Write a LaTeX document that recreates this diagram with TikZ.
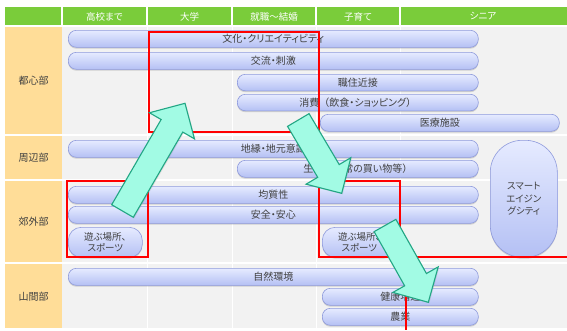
\documentclass[tikz,border=0pt]{standalone}
\usepackage{fontspec}
\setmainfont[RawFeature=+palt]{Noto Sans CJK JP}
\newfontfamily\fwfont{Noto Sans CJK JP}
\usetikzlibrary{shadows,calc}
\definecolor{hdr}{HTML}{7ACC3A}
\definecolor{side}{HTML}{FFDD98}
\definecolor{bg}{HTML}{F2F2F2}
\definecolor{bartop}{HTML}{E6EBFF}
\definecolor{barbot}{HTML}{B4C0F4}
\definecolor{barline}{HTML}{8E9ADC}
\definecolor{txt}{HTML}{404040}
\definecolor{arrfill}{HTML}{A2FBE4}
\definecolor{arrline}{HTML}{22A684}
\definecolor{redln}{HTML}{FF0000}
\newcommand{\lp}{{\fwfont （}}
\newcommand{\rp}{{\fwfont ）}}
\tikzset{
  hdrtxt/.style={text=white, font=\fontsize{9.5}{10}\selectfont, inner sep=0pt},
  rowtxt/.style={text=txt, font=\fontsize{10}{11}\selectfont, inner sep=0pt},
  bar/.style={draw=barline, line width=0.6pt, top color=bartop, bottom color=barbot,
    rounded corners=8pt, inner sep=0pt, anchor=north west, text=txt,
    font=\fontsize{10}{11}\selectfont, align=center,
    drop shadow={shadow xshift=0pt, shadow yshift=-1.4pt, opacity=0.3}},
  redbox/.style={draw=redln, line width=1.8pt},
  arrowsty/.style={draw=arrline, line width=1.1pt, fill=arrfill, line join=miter,
    drop shadow={shadow xshift=1pt, shadow yshift=-1pt, opacity=0.2}},
  grid/.style={draw=white, line width=1pt},
}
\newcommand{\blockarrow}[2]{%
  \coordinate (#1-b) at ($(#2)!26pt!(#1)$);
  \draw[arrowsty] ($(#1)!12.5pt!90:(#2)$) -- ($(#1-b)!12.5pt!90:(#2)$) -- ($(#1-b)!26pt!90:(#2)$) -- (#2) -- ($(#1-b)!26pt!-90:(#2)$) -- ($(#1-b)!12.5pt!-90:(#2)$) -- ($(#1)!12.5pt!-90:(#2)$) -- cycle;}
\begin{document}
\begin{tikzpicture}[x=1pt,y=-1pt]
\useasboundingbox (0,0) rectangle (567,330);
% backgrounds
\fill[hdr] (5,7) rectangle (567,26);
\fill[side] (5,26) rectangle (62,328);
\fill[bg] (62,26) rectangle (567,328);
\foreach \x in {62,147,232,316,400} {\draw[grid, line width=1.3pt] (\x,7) -- (\x,26);}
\foreach \x in {147,232,316,400} {\draw[grid] (\x,26) -- (\x,328);}
\foreach \y in {26,135,180,263} {\draw[grid, line width=1.3pt] (5,\y) -- (567,\y);}
% header
\node[hdrtxt] (h1) at (104.5,16.5) {高校まで};
\node[hdrtxt] (h2) at (189.5,16.5) {大学};
\node[hdrtxt] (h3) at (274,16.5) {就職～結婚};
\node[hdrtxt] (h4) at (358,16.5) {子育て};
\node[hdrtxt] (h5) at (483,16.5) {シニア};
% rows
\node[rowtxt] (r1) at (33.5,81) {都心部};
\node[rowtxt] (r2) at (33.5,158) {周辺部};
\node[rowtxt] (r3) at (33.5,222) {郊外部};
\node[rowtxt] (r4) at (33.5,297) {山間部};
% bars
\node[bar, minimum width=410pt, minimum height=17pt] (b1) at (68,30) {文化・クリエイティビティ};
\node[bar, minimum width=410pt, minimum height=17pt] (b2) at (68,52) {交流・刺激};
\node[bar, minimum width=241pt, minimum height=16.5pt] (b3) at (237,74) {職住近接};
\node[bar, minimum width=241pt, minimum height=16.5pt] (b4) at (237,94) {消費\lp 飲食・ショッピング\rp};
\node[bar, minimum width=239pt, minimum height=17pt] (b5) at (320,114) {医療施設};
\node[bar, minimum width=410pt, minimum height=17pt] (b6) at (68,140) {地縁・地元意識};
\node[bar, minimum width=241pt, minimum height=17pt] (b7) at (237,160) {生活\lp 日常の買い物等\rp};
\node[bar, minimum width=410pt, minimum height=17pt] (b8) at (68,186) {均質性};
\node[bar, minimum width=410pt, minimum height=17pt] (b9) at (68,206) {安全・安心};
\node[bar, minimum width=74pt, minimum height=30pt, rounded corners=13pt, font=\fontsize{9.5}{11.5}\selectfont] (b10) at (68,227) {遊ぶ場所、\\スポーツ};
\node[bar, minimum width=74pt, minimum height=30pt, rounded corners=13pt, font=\fontsize{9.5}{11.5}\selectfont] (b11) at (322,227) {遊ぶ場所、\\スポーツ};
\node[bar, minimum width=410pt, minimum height=17pt] (b12) at (68,268) {自然環境};
\node[bar, minimum width=156pt, minimum height=17pt] (b13) at (322,288) {健康増進};
\node[bar, minimum width=156pt, minimum height=17pt] (b14) at (322,308) {農業};
\node[bar, minimum width=67pt, minimum height=117pt, rounded corners=32pt, font=\fontsize{9.5}{12.5}\selectfont] (b15) at (490,140) {スマート\\エイジン\\グシティ};
% red boxes
\draw[redbox] (149,32) rectangle (319,132);
\draw[redbox] (67,181) rectangle (148,257);
\draw[redbox] (319,181) rectangle (400,257);
\coordinate (e1) at (400,257);
\coordinate (e2) at (567,257);
\coordinate (e3) at (406,257);
\coordinate (e4) at (406,330);
\draw[redbox] (e1) -- (e2);
\draw[redbox] (e3) -- (e4);
% arrows
\coordinate (a1t) at (122.5,211);
\coordinate (a1p) at (185,103.3);
\coordinate (a2t) at (298.3,120);
\coordinate (a2p) at (341.7,193.3);
\coordinate (a3t) at (385,225.5);
\coordinate (a3p) at (428.3,302.3);
\blockarrow{a1t}{a1p}
\blockarrow{a2t}{a2p}
\blockarrow{a3t}{a3p}
\end{tikzpicture}
\end{document}
